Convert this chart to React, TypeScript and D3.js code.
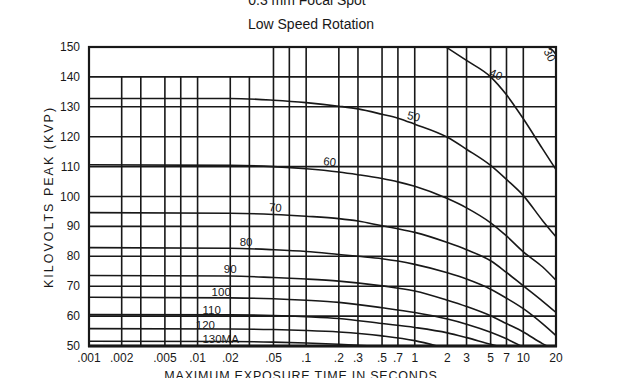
import React from "react";
import * as d3 from "d3";

const W = 629;
const H = 378;

const title1 = "0.3 mm Focal Spot";
const title2 = "Low Speed Rotation";
const yTitle = "KILOVOLTS  PEAK  (KVP)";
const xTitle = "MAXIMUM EXPOSURE TIME IN SECONDS";

const yTicks = [50, 60, 70, 80, 90, 100, 110, 120, 130, 140, 150];
const xTickLabels = [".001", ".002", ".005", ".01", ".02", ".05", ".1", ".2", ".3", ".5", ".7", "1", "2", "3", "5", "7", "10", "20"];
const xTickValues = [0.001, 0.002, 0.005, 0.01, 0.02, 0.05, 0.1, 0.2, 0.3, 0.5, 0.7, 1, 2, 3, 5, 7, 10, 20];
const xGrid = [0.002, 0.003, 0.005, 0.007, 0.01, 0.02, 0.03, 0.05, 0.07, 0.1, 0.2, 0.3, 0.5, 0.7, 1, 2, 3, 5, 7, 10];

const mA30: [number, number][] = [[16.8, 150], [18.5, 149.0], [20, 147.5]];
const mA40: [number, number][] = [[1.94, 150], [3, 145.5], [5, 140], [7, 134], [10, 126], [15, 116], [20, 109]];
const mA50: [number, number][] = [[0.001, 132.8], [0.02, 132.8], [0.05, 132.2], [0.1, 131.4], [0.2, 130.2], [0.3, 129.3], [0.5, 127.5], [0.7, 126.2], [1, 124.2], [2, 119.8], [3, 115.8], [5, 110.4], [7, 105.7], [10, 100.3], [15, 92], [20, 86.5]];
const mA60: [number, number][] = [[0.001, 110.6], [0.02, 110.4], [0.05, 110], [0.1, 109.3], [0.2, 108.2], [0.3, 107.3], [0.5, 106], [0.7, 104.9], [1, 103.4], [2, 99.3], [3, 96.2], [5, 91.2], [7, 86.8], [10, 81.5], [15, 76.5], [20, 72]];
const mA70: [number, number][] = [[0.001, 94.6], [0.02, 94.4], [0.05, 94], [0.1, 93.4], [0.2, 92.6], [0.3, 91.8], [0.5, 90.2], [0.7, 89.2], [1, 88], [2, 84.6], [3, 82.2], [5, 78.5], [7, 74.6], [10, 70.1], [15, 65], [20, 61.2]];
const mA80: [number, number][] = [[0.001, 82.9], [0.02, 82.7], [0.05, 82.2], [0.1, 81.6], [0.2, 80.6], [0.3, 80], [0.5, 79.2], [0.7, 78.4], [1, 77.3], [2, 74.5], [3, 72.4], [5, 69], [7, 66], [10, 62.5], [15, 57.5], [20, 53.5]];
const mA90: [number, number][] = [[0.001, 73.6], [0.02, 73.4], [0.05, 72.9], [0.1, 72.4], [0.2, 71.7], [0.5, 70.1], [1, 68.4], [2, 65.3], [3, 63.2], [5, 60.1], [7, 57.5], [10, 54.7], [15, 50.8], [16.5, 50]];
const mA100: [number, number][] = [[0.001, 66.3], [0.02, 66.1], [0.05, 65.8], [0.1, 65.3], [0.2, 64.6], [0.5, 62.8], [1, 61.2], [2, 59], [3, 57.3], [5, 54.6], [7, 52.4], [9.5, 50]];
const mA110: [number, number][] = [[0.001, 60.5], [0.02, 60.4], [0.05, 60.2], [0.1, 59.8], [0.2, 59.2], [0.5, 57.5], [1, 56.2], [2, 54.4], [3, 52.8], [5, 50.6], [5.8, 50]];
const mA120: [number, number][] = [[0.001, 55.8], [0.02, 55.7], [0.05, 55.5], [0.1, 55.2], [0.2, 54.7], [0.5, 53.4], [1, 51.8], [1.6, 50]];
const mA130: [number, number][] = [[0.001, 51.6], [0.02, 51.5], [0.05, 51.3], [0.1, 51], [0.2, 50.6], [0.4, 50]];

const curves = [mA30, mA40, mA50, mA60, mA70, mA80, mA90, mA100, mA110, mA120, mA130];

// curve labels: text, time, kVp, rotation
const curveLabels: [string, number, number, number][] = [
  ["30", 17.5, 147.3, 62],
  ["40", 5.6, 140.8, 22],
  ["50", 0.98, 126.8, 14],
  ["60", 0.165, 111.6, 6],
  ["70", 0.052, 96.3, 4],
  ["80", 0.028, 84.9, 0],
  ["90", 0.02, 75.6, 0],
  ["100", 0.0165, 68, 0],
  ["110", 0.0135, 62, 0],
  ["120", 0.0118, 57.0, 0],
  ["130MA", 0.0163, 52.5, 0],
];

const FONT = "'Liberation Sans', Arial, sans-serif";
const INK = "#181818";

export default function App() {
  const x = d3.scaleLog().domain([0.001, 20]).range([89, 556]);
  const y = d3.scaleLinear().domain([50, 150]).range([346, 47]);
  const line = d3
    .line<[number, number]>()
    .x((d) => x(d[0]))
    .y((d) => y(d[1]))
    .curve(d3.curveMonotoneX);

  return (
    <svg
      width={W}
      height={H}
      viewBox={`0 0 ${W} ${H}`}
      style={{ position: "absolute", left: 0, top: 0, background: "#fff" }}
    >
      <rect x={0} y={0} width={W} height={H} fill="#fff" />
      <text x={307} y={5} textAnchor="middle" fontFamily={FONT} fontSize={14} fill={INK}>
        {title1}
      </text>
      <text x={311} y={29} textAnchor="middle" fontFamily={FONT} fontSize={14} fill={INK}>
        {title2}
      </text>

      {/* horizontal grid */}
      {yTicks
        .filter((v) => v > 50 && v < 150)
        .map((v) => (
          <line key={"h" + v} x1={x(0.001)} x2={x(20)} y1={y(v)} y2={y(v)} stroke={INK} strokeWidth={1.6} />
        ))}
      {/* vertical grid */}
      {xGrid.map((t) => (
        <line
          key={"v" + t}
          x1={x(t)}
          x2={x(t)}
          y1={y(50)}
          y2={t < 0.05 ? y(140) : y(150)}
          stroke={INK}
          strokeWidth={1.6}
        />
      ))}

      {/* curves */}
      <g fill="none" stroke={INK} strokeWidth={1.6}>
        {curves.map((c, i) => (
          <path key={"c" + i} d={line(c) || ""} />
        ))}
      </g>

      {/* frame */}
      <rect x={x(0.001)} y={y(150)} width={x(20) - x(0.001)} height={y(50) - y(150)} fill="none" stroke={INK} strokeWidth={2.2} />
      <line x1={x(0.001) - 1} x2={x(20) + 1} y1={y(50)} y2={y(50)} stroke={INK} strokeWidth={3.2} />

      {/* curve labels */}
      {curveLabels.map(([s, t, v, r]) => (
        <text
          key={"l" + s}
          x={x(t)}
          y={y(v)}
          textAnchor="middle"
          dominantBaseline="central"
          fontFamily={FONT}
          fontSize={11.5}
          fill={INK}
          transform={r ? `rotate(${r} ${x(t)} ${y(v)})` : undefined}
        >
          {s}
        </text>
      ))}

      {/* y tick labels */}
      {yTicks.map((v) => (
        <text key={"yt" + v} x={80} y={y(v)} textAnchor="end" dominantBaseline="central" fontFamily={FONT} fontSize={12} fill={INK}>
          {v}
        </text>
      ))}
      {/* x tick labels */}
      {xTickValues.map((t, i) => (
        <text key={"xt" + i} x={x(t)} y={358} textAnchor="middle" dominantBaseline="central" fontFamily={FONT} fontSize={12} fill={INK}>
          {xTickLabels[i]}
        </text>
      ))}

      <text
        x={0}
        y={0}
        transform={`translate(49 ${197}) rotate(-90)`}
        textAnchor="middle"
        dominantBaseline="central"
        fontFamily={FONT}
        fontSize={12.5}
        letterSpacing={2}
        fill={INK}
      >
        {yTitle}
      </text>
      <text x={301} y={380} textAnchor="middle" fontFamily={FONT} fontSize={12.5} letterSpacing={0.8} fill={INK}>
        {xTitle}
      </text>
    </svg>
  );
}
